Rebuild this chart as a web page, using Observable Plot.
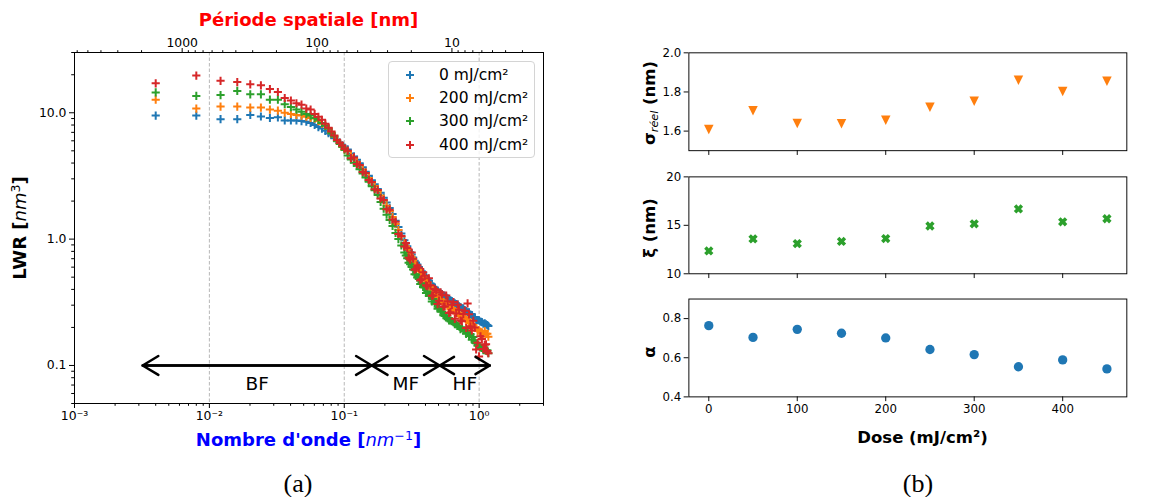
<!DOCTYPE html>
<html lang="fr">
<head>
<meta charset="utf-8">
<script src="https://cdn.jsdelivr.net/npm/d3@7"></script>
<script src="https://cdn.jsdelivr.net/npm/@observablehq/plot@0.6"></script>
<style>
html, body { margin:0; padding:0; background:#fff; }
body { width:1152px; height:497px; overflow:hidden; position:relative; font-family:"DejaVu Sans", sans-serif; color:#000; }
.chart { position:absolute; }
.lbl { position:absolute; white-space:nowrap; line-height:1; transform:translate(-50%,-50%); }
.rot { transform:translate(-50%,-50%) rotate(-90deg); }
.b { font-weight:bold; }
.lbl sup { font-size:0.7em; vertical-align:0.5em; line-height:0; font-style:normal; }
.lbl sub { font-size:0.68em; vertical-align:-0.25em; line-height:0; font-style:italic; font-weight:normal; }
.legend { position:absolute; left:388px; top:61px; width:147px; height:97px; box-sizing:border-box; border:1px solid #d4d4d4; border-radius:4px; background:rgba(255,255,255,0.8); }
.legend .row { position:absolute; left:0; height:20px; line-height:20px; font-size:15.5px; white-space:nowrap; }
.legend svg { position:absolute; left:16px; top:5px; }
.legend span { position:absolute; left:50px; top:0; }
.cap { position:absolute; font-family:"Liberation Serif", serif; font-size:26px; line-height:1; transform:translate(-50%,-50%); }
</style>
</head>
<body>
<div id="left" class="chart" style="left:0;top:0"></div>
<div id="r1" class="chart" style="left:620px;top:40px"></div>
<div id="r2" class="chart" style="left:620px;top:165px"></div>
<div id="r3" class="chart" style="left:620px;top:290px"></div>
<div id="legend" class="legend"></div>

<div class="lbl b" style="left:308.5px;top:20px;font-size:18px;color:#ff0000">Période spatiale [nm]</div>
<div class="lbl" style="left:308.5px;top:440px;font-size:18px;color:#0000ff"><span class="b">Nombre d'onde [</span><i>nm</i><sup>−1</sup><span class="b">]</span></div>
<div class="lbl rot" style="left:20px;top:228px;font-size:18px"><span class="b">LWR [</span><i>nm</i><sup>3</sup><span class="b">]</span></div>
<div class="lbl rot" style="left:650px;top:103px;font-size:16.5px"><span class="b">σ</span><sub>réel</sub><span class="b"> (nm)</span></div>
<div class="lbl rot b" style="left:650px;top:228px;font-size:16.5px">ξ (nm)</div>
<div class="lbl rot b" style="left:650px;top:352px;font-size:16.5px">α</div>
<div class="lbl b" style="left:922.5px;top:437.5px;font-size:16.5px">Dose (mJ/cm²)</div>
<div class="cap" style="left:298px;top:484px">(a)</div>
<div class="cap" style="left:918px;top:484px">(b)</div>

<script>
// ---------------- data: panel (a) ----------------
const seriesLabels = ["0 mJ/cm²", "200 mJ/cm²", "300 mJ/cm²", "400 mJ/cm²"];
const seriesColors = ["#1f77b4", "#ff7f0e", "#2ca02c", "#d62728"];

// wavenumbers (nm^-1), shared grid
const wavenumber = [
  0.0040, 0.0080, 0.0121, 0.0161, 0.0201, 0.0241, 0.0281, 0.0322, 0.0362, 0.0402,
  0.0442, 0.0482, 0.0523, 0.0563, 0.0603, 0.0643, 0.0683, 0.0724, 0.0764, 0.0804,
  0.0844, 0.0884, 0.0925, 0.0965, 0.1005,
  0.106, 0.112, 0.118, 0.124, 0.130, 0.137, 0.144, 0.152, 0.160, 0.168,
  0.177, 0.186, 0.196, 0.206, 0.217, 0.228, 0.240, 0.252, 0.265, 0.279,
  0.293, 0.308, 0.324, 0.340, 0.357, 0.375, 0.394, 0.414, 0.435, 0.457,
  0.480, 0.504, 0.530, 0.556, 0.584, 0.613, 0.644, 0.676, 0.710, 0.745,
  0.782, 0.821, 0.862, 0.905, 0.950, 0.998, 1.048, 1.100, 1.150
];
// extra (interleaved) wavenumbers of the dense high-frequency part
const wavenumberHF = [
  0.286, 0.300, 0.316, 0.332, 0.348, 0.366, 0.384, 0.404, 0.424, 0.446,
  0.468, 0.492, 0.517, 0.543, 0.570, 0.598, 0.628, 0.660, 0.693, 0.727,
  0.763, 0.801, 0.841, 0.883, 0.927, 0.974, 1.023, 1.074, 1.125, 1.170
];

const lwr0 = [
  9.5, 9.5, 8.9, 8.9, 9.6, 9.35, 9.1, 9.2, 8.7, 8.7,
  8.7, 8.6, 8.5, 8.3, 8.0, 7.7, 7.5, 7.2, 6.9, 6.7,
  6.3, 6.0, 5.8, 5.5, 5.3,
  5.13, 4.76, 4.50, 4.25, 3.99, 3.70, 3.42, 3.17, 2.93, 2.72,
  2.49, 2.33, 2.13, 1.95, 1.76, 1.58, 1.40, 1.25, 1.11, 0.978,
  0.880, 0.789, 0.717, 0.653, 0.601, 0.556, 0.516, 0.480, 0.445, 0.419,
  0.393, 0.378, 0.368, 0.355, 0.340, 0.327, 0.317, 0.306, 0.294, 0.283,
  0.275, 0.263, 0.253, 0.242, 0.229, 0.228, 0.220, 0.216, 0.209
];
const lwr0HF = [
  0.922, 0.820, 0.755, 0.674, 0.630, 0.576, 0.543, 0.495, 0.469, 0.433,
  0.415, 0.388, 0.376, 0.358, 0.348, 0.332, 0.323, 0.310, 0.303, 0.289,
  0.283, 0.270, 0.263, 0.251, 0.241, 0.229, 0.222, 0.214, 0.212, 0.205
];

const lwr200 = [
  12.7, 10.8, 11.2, 11.2, 11.0, 11.0, 10.6, 10.4, 10.0, 9.8,
  9.6, 9.5, 9.3, 9.1, 9.0, 8.6, 8.2, 7.9, 7.5, 6.9,
  6.5, 6.0, 5.7, 5.4, 5.1,
  4.95, 4.59, 4.34, 4.09, 3.85, 3.56, 3.30, 3.05, 2.82, 2.63,
  2.40, 2.21, 2.02, 1.84, 1.67, 1.50, 1.32, 1.18, 1.05, 0.925,
  0.833, 0.746, 0.678, 0.618, 0.569, 0.526, 0.489, 0.454, 0.421, 0.396,
  0.365, 0.345, 0.325, 0.307, 0.294, 0.282, 0.274, 0.264, 0.254, 0.245,
  0.237, 0.228, 0.219, 0.209, 0.198, 0.190, 0.183, 0.187, 0.178
];
const lwr200HF = [
  0.879, 0.766, 0.720, 0.623, 0.589, 0.522, 0.508, 0.454, 0.430, 0.385,
  0.381, 0.345, 0.336, 0.312, 0.311, 0.290, 0.285, 0.268, 0.263, 0.245,
  0.243, 0.227, 0.222, 0.206, 0.200, 0.187, 0.185, 0.177, 0.178, 0.169
];

const lwr300 = [
  14.5, 13.6, 13.8, 14.9, 14.0, 14.0, 12.7, 12.7, 11.7, 11.1,
  10.6, 10.2, 9.8, 9.5, 9.1, 8.8, 8.3, 7.9, 7.5, 6.9,
  6.5, 6.0, 5.7, 5.4, 5.1,
  4.60, 4.27, 4.03, 3.81, 3.58, 3.31, 3.07, 2.84, 2.62, 2.44,
  2.23, 1.97, 1.74, 1.56, 1.42, 1.27, 1.12, 1.00, 0.890, 0.785,
  0.707, 0.633, 0.575, 0.524, 0.483, 0.447, 0.415, 0.385, 0.358, 0.336,
  0.310, 0.285, 0.266, 0.246, 0.236, 0.227, 0.220, 0.212, 0.204, 0.197,
  0.190, 0.183, 0.176, 0.168, 0.150, 0.143, 0.138, 0.135, 0.132
];
const lwr300HF = [
  0.741, 0.650, 0.601, 0.528, 0.496, 0.441, 0.418, 0.375, 0.357, 0.321,
  0.309, 0.281, 0.271, 0.250, 0.246, 0.227, 0.225, 0.212, 0.206, 0.194,
  0.190, 0.178, 0.171, 0.160, 0.154, 0.143, 0.139, 0.132, 0.131, 0.125
];

const lwr400 = [
  17.1, 19.7, 17.9, 17.5, 16.8, 16.5, 15.4, 14.6, 13.1, 12.5,
  11.9, 11.6, 10.8, 10.6, 9.8, 9.3, 8.8, 8.2, 7.6, 7.1,
  6.6, 6.1, 5.8, 5.5, 5.2,
  5.01, 4.37, 4.43, 3.94, 3.86, 3.40, 3.34, 2.94, 2.83, 2.48,
  2.45, 2.10, 2.04, 1.72, 1.71, 1.43, 1.37, 1.10, 1.06, 0.873,
  0.851, 0.689, 0.699, 0.583, 0.593, 0.481, 0.514, 0.424, 0.431, 0.358,
  0.394, 0.326, 0.365, 0.293, 0.323, 0.264, 0.318, 0.258, 0.276, 0.224,
  0.271, 0.310, 0.204, 0.226, 0.134, 0.118, 0.162, 0.146, 0.130
];
const lwr400HF = [
  0.931, 0.712, 0.783, 0.572, 0.618, 0.473, 0.548, 0.431, 0.490, 0.357,
  0.403, 0.306, 0.380, 0.293, 0.358, 0.260, 0.302, 0.234, 0.303, 0.227,
  0.255, 0.198, 0.254, 0.189, 0.200, 0.151, 0.170, 0.135, 0.147, 0.125
];

const xMajorTicks = [0.001, 0.01, 0.1, 1];
const xMajorLabels = ["10⁻³", "10⁻²", "10⁻¹", "10⁰"];
const yMajorTicks = [0.1, 1, 10];
const yMajorLabels = ["0.1", "1.0", "10.0"];
const periodTicks = [1000, 100, 10];
const periodLabels = ["1000", "100", "10"];
const gridK = [0.01, 0.1, 1];
const bandEdges = [0.0032, 0.16, 0.51, 1.2];
const bandNames = ["BF", "MF", "HF"];
const arrowLevel = 0.1;

// ---------------- data: panel (b) ----------------
const dose = [0, 50, 100, 150, 200, 250, 300, 350, 400, 450];
const sigmaReel = [1.608, 1.704, 1.639, 1.637, 1.655, 1.722, 1.753, 1.860, 1.803, 1.855];
const xiVals = [12.36, 13.60, 13.11, 13.34, 13.63, 14.93, 15.16, 16.69, 15.36, 15.68];
const alphaVals = [0.764, 0.704, 0.745, 0.725, 0.701, 0.642, 0.616, 0.554, 0.589, 0.543];
const doseTicks = [0, 100, 200, 300, 400];
const doseTickLabels = ["0", "100", "200", "300", "400"];
const sigmaTicks = [1.6, 1.8, 2.0];
const sigmaTickLabels = ["1.6", "1.8", "2.0"];
const xiTicks = [10, 15, 20];
const xiTickLabels = ["10", "15", "20"];
const alphaTicks = [0.4, 0.6, 0.8];
const alphaTickLabels = ["0.4", "0.6", "0.8"];

// ---------------- helpers ----------------
const lab = (ticks, labels) => d => { const i = ticks.findIndex(t => Math.abs(t - d) <= 1e-9 * Math.abs(t)); return i < 0 ? "" : labels[i]; };
const blank = () => "";
const baseStyle = {fontFamily: "DejaVu Sans", fontSize: "12.4px", color: "#000", background: "transparent", overflow: "visible"};

// ---------------- panel (a) ----------------
const xDomain = [0.001, 3];
const yDomain = [0.05, 30];
const xMinor = d3.scaleLog().domain(xDomain).ticks().filter(t => !xMajorTicks.some(m => Math.abs(m - t) < 1e-12));
const yMinor = d3.scaleLog().domain(yDomain).ticks().filter(t => !yMajorTicks.some(m => Math.abs(m - t) < 1e-12));
const periodK = periodTicks.map(p => 2 * Math.PI / p);
const periodItems = periodTicks.map((p, i) => ({k: periodK[i], label: periodLabels[i]}));
const periodDomain = [2 * Math.PI / xDomain[1], 2 * Math.PI / xDomain[0]];
const periodMinorK = d3.scaleLog().domain(periodDomain).ticks()
  .filter(p => !periodTicks.includes(p)).map(p => 2 * Math.PI / p)
  .filter(k => k >= xDomain[0] && k <= xDomain[1]);

const allSeries = [[lwr0, lwr0HF], [lwr200, lwr200HF], [lwr300, lwr300HF], [lwr400, lwr400HF]];
const points = [];
allSeries.forEach(([main, hf], si) => {
  main.forEach((v, j) => points.push({k: wavenumber[j], v, s: seriesLabels[si]}));
  hf.forEach((v, j) => points.push({k: wavenumberHF[j], v, s: seriesLabels[si]}));
});
const segs = bandNames.map((n, i) => ({name: n, a: bandEdges[i], b: bandEdges[i + 1]}));

const left = Plot.plot({
  width: 560, height: 460,
  marginLeft: 74, marginRight: 17, marginTop: 52, marginBottom: 57,
  style: baseStyle,
  x: {type: "log", domain: xDomain},
  y: {type: "log", domain: yDomain},
  color: {domain: seriesLabels, range: seriesColors},
  marks: [
    Plot.ruleX(gridK, {stroke: "#b0b0b0", strokeWidth: 0.9, strokeDasharray: "3.5,2"}),
    Plot.dot(points, {x: "k", y: "v", stroke: "s", symbol: "plus", r: 2.75, strokeWidth: 2}),
    Plot.arrow(segs, {x1: "a", x2: "b", y1: () => arrowLevel, y2: () => arrowLevel, stroke: "black", strokeWidth: 2.5, headLength: 11, headAngle: 62}),
    Plot.arrow(segs, {x1: "b", x2: "a", y1: () => arrowLevel, y2: () => arrowLevel, stroke: "black", strokeWidth: 2.5, headLength: 11, headAngle: 62}),
    Plot.text(segs, {x: d => Math.sqrt(d.a * d.b), y: () => arrowLevel, text: "name", dy: 19, fontSize: 18.5, fill: "black"}),
    Plot.axisX(xMajorTicks, {anchor: "bottom", tickSize: 5, tickPadding: 3, tickFormat: lab(xMajorTicks, xMajorLabels), label: null}),
    Plot.axisX(xMinor, {anchor: "bottom", tickSize: 2.8, tickFormat: blank, label: null}),
    Plot.axisX(periodK, {anchor: "top", tickSize: 5, tickFormat: blank, label: null}),
    Plot.axisX(periodMinorK, {anchor: "top", tickSize: 2.8, tickFormat: blank, label: null}),
    Plot.text(periodItems, {x: "k", text: "label", frameAnchor: "top", dy: -14, fontSize: 12.4, fill: "black"}),
    Plot.axisY(yMajorTicks, {anchor: "left", tickSize: 5, tickPadding: 3, tickFormat: lab(yMajorTicks, yMajorLabels), label: null}),
    Plot.axisY(yMinor, {anchor: "left", tickSize: 2.8, tickFormat: blank, label: null}),
    Plot.frame({stroke: "black", strokeWidth: 1})
  ]
});
document.getElementById("left").append(left);

// legend
const legendEl = document.getElementById("legend");
seriesLabels.forEach((name, i) => {
  const row = document.createElement("div");
  row.className = "row";
  row.style.top = (2.7 + i * 23.3) + "px";
  row.innerHTML = `<svg width="10" height="10"><path d="M1,5H9M5,1V9" stroke="${seriesColors[i]}" stroke-width="2" fill="none"/></svg><span>${name}</span>`;
  legendEl.append(row);
});

// ---------------- panel (b) ----------------
const sq = Math.sqrt;
const triDown = {draw(ctx, size) { const s = sq(size) / 2; ctx.moveTo(-s, -s); ctx.lineTo(s, -s); ctx.lineTo(0, s); ctx.closePath(); }};
const filledX = {draw(ctx, size) {
  const s = sq(size) / 2, a = s * 0.97, b = s * 0.36;
  const pts = [[b,-a],[b,-b],[a,-b],[a,b],[b,b],[b,a],[-b,a],[-b,b],[-a,b],[-a,-b],[-b,-b],[-b,-a]];
  pts.forEach(([x, y], i) => { const X = (x - y) / Math.SQRT2, Y = (x + y) / Math.SQRT2; i ? ctx.lineTo(X, Y) : ctx.moveTo(X, Y); });
  ctx.closePath();
}};
const rFor = halfExtent => 2 * halfExtent / Math.sqrt(Math.PI);
const doseDomain = [-22.5, 472.5];

function sub({height, mt, mb, yDom, yTicks, yLabels, values, mark, showX}) {
  return Plot.plot({
    width: 560, height,
    marginLeft: 72, marginRight: 27, marginTop: mt, marginBottom: mb,
    style: baseStyle,
    x: {domain: doseDomain},
    y: {domain: yDom},
    marks: [
      mark(values),
      Plot.axisY(yTicks, {anchor: "left", tickSize: 5, tickPadding: 3, tickFormat: lab(yTicks, yLabels), label: null}),
      Plot.axisX(doseTicks, {anchor: "bottom", tickSize: 5, tickPadding: 3, tickFormat: showX ? lab(doseTicks, doseTickLabels) : blank, label: null}),
      Plot.frame({stroke: "black", strokeWidth: 1})
    ]
  });
}

document.getElementById("r1").append(sub({
  height: 125, mt: 13, mb: 9, yDom: [1.5, 2.0], yTicks: sigmaTicks, yLabels: sigmaTickLabels, values: sigmaReel, showX: false,
  mark: vals => Plot.dot(vals, {x: dose, y: vals, symbol: triDown, r: rFor(5.0), fill: "#ff7f0e", stroke: "none"})
}));
document.getElementById("r2").append(sub({
  height: 124, mt: 12, mb: 10, yDom: [10, 20], yTicks: xiTicks, yLabels: xiTickLabels, values: xiVals, showX: false,
  mark: vals => Plot.dot(vals, {x: dose, y: vals, symbol: filledX, r: rFor(5.2), fill: "#2ca02c", stroke: "none"})
}));
document.getElementById("r3").append(sub({
  height: 140, mt: 9, mb: 28, yDom: [0.4, 0.9], yTicks: alphaTicks, yLabels: alphaTickLabels, values: alphaVals, showX: true,
  mark: vals => Plot.dot(vals, {x: dose, y: vals, r: 4.9, fill: "#1f77b4", stroke: "none"})
}));
</script>
</body>
</html>
